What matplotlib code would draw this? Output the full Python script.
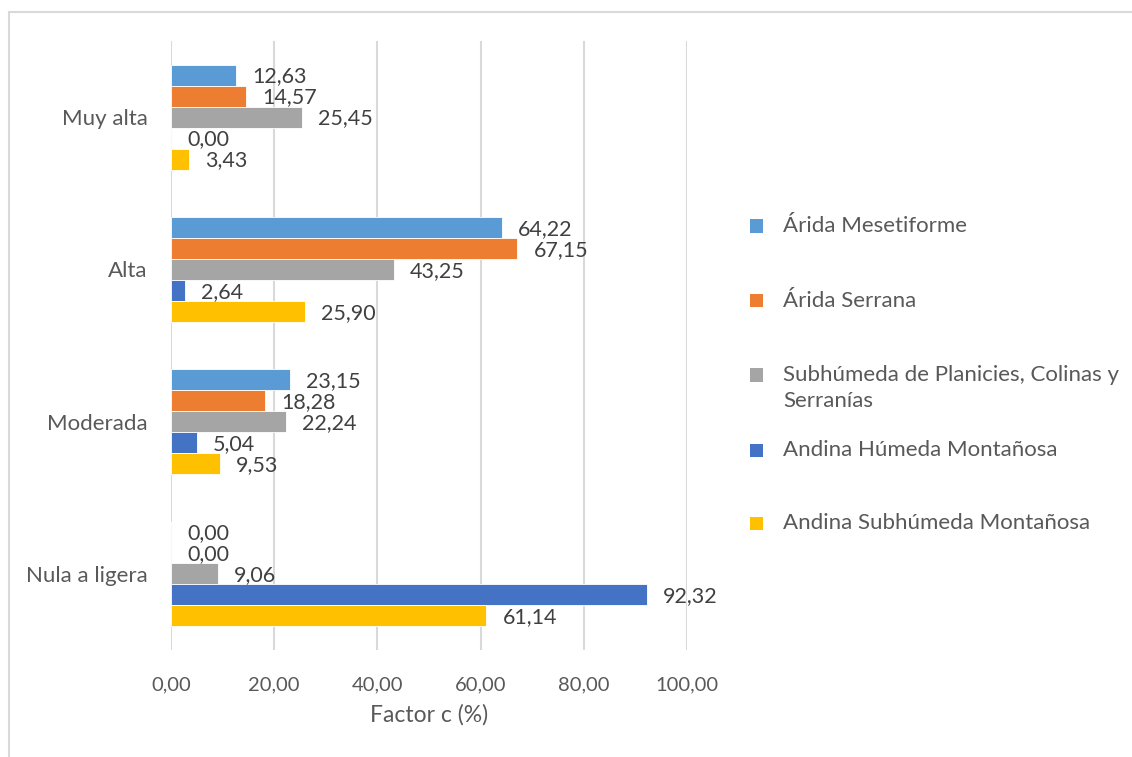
import numpy as np
import matplotlib
matplotlib.use('Agg')
import matplotlib.pyplot as plt
from matplotlib.patches import Rectangle

plt.rcParams['font.family'] = ['Lato', 'DejaVu Sans']

# ===========================
# Datos
# ===========================
CATEGORIES = ["Nula a ligera", "Moderada", "Alta", "Muy alta"]
SERIES = [
    "Árida Mesetiforme",
    "Árida Serrana",
    "Subhúmeda de Planicies, Colinas y\nSerranías",
    "Andina Húmeda Montañosa",
    "Andina Subhúmeda Montañosa",
]
arida_mesetiforme = [0.00, 23.15, 64.22, 12.63]
arida_serrana = [0.00, 18.28, 67.15, 14.57]
subhumeda_planicies = [9.06, 22.24, 43.25, 25.45]
andina_humeda = [92.32, 5.04, 2.64, 0.00]
andina_subhumeda = [61.14, 9.53, 25.90, 3.43]
VALUES = [arida_mesetiforme, arida_serrana, subhumeda_planicies,
          andina_humeda, andina_subhumeda]
COLORS = ["#5B9BD5", "#ED7D31", "#A5A5A5", "#4472C4", "#FFC000"]
XTICKS = [0, 20, 40, 60, 80, 100]

W, H = 1132, 757
fig = plt.figure(figsize=(W / 100, H / 100), dpi=100)
ax = fig.add_axes([171 / W, 1 - 650 / H, (687 - 171) / W, (650 - 41) / H])

# marco exterior del gráfico
fig.patches.append(Rectangle((8.5 / W, -0.1), 1.2, 1 - 11.5 / H + 0.1,
                             transform=fig.transFigure, fill=False,
                             edgecolor="#D9D9D9", linewidth=1.5, clip_on=False))

y = np.arange(len(CATEGORIES))
bh = 0.138

def fmt(v):
    return f"{v:.2f}".replace(".", ",")

for i, (name, vals, col) in enumerate(zip(SERIES, VALUES, COLORS)):
    pos = y + (2 - i) * bh
    ax.barh(pos, vals, height=bh, color=col, edgecolor="white",
            linewidth=0.6, zorder=3)
    for p, v in zip(pos, vals):
        ax.annotate(fmt(v), (v, p), xytext=(11.5, -1), textcoords="offset points",
                    ha="left", va="center", fontsize=15.5, color="#404040", zorder=4)

ax.set_xlim(0, 100)
ax.set_ylim(-0.5, 3.5)
ax.set_xticks(XTICKS)
ax.set_xticklabels([fmt(t) for t in XTICKS], fontsize=14.5)
ax.set_yticks(y)
ax.set_yticklabels(CATEGORIES, fontsize=16)
ax.tick_params(axis="both", length=0, labelcolor="#595959")
ax.tick_params(axis="x", pad=19)
ax.tick_params(axis="y", pad=17)
ax.grid(axis="x", color="#D9D9D9", linewidth=1.5, zorder=0)
for s in ax.spines.values():
    s.set_visible(False)
ax.set_xlabel("Factor c (%)", fontsize=16.5, color="#595959", labelpad=8)

# leyenda a la derecha
legend_y = [226, 301, 375, 450, 523]
for name, col, ly in zip(SERIES, COLORS, legend_y):
    fig.patches.append(Rectangle((750 / W, 1 - (ly + 6.5) / H), 13 / W, 13 / H,
                                 transform=fig.transFigure, facecolor=col,
                                 edgecolor="none"))
    for k, line in enumerate(name.split("\n")):
        fig.text(783 / W, 1 - (ly + 26 * k) / H, line, ha="left", va="center",
                 fontsize=16, color="#595959")

plt.savefig("out.png", dpi=100)
plt.close()
